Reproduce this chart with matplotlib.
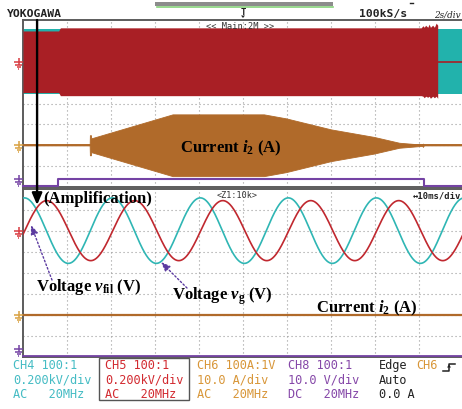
import numpy as np
import matplotlib
matplotlib.use("Agg")
import matplotlib.pyplot as plt
from matplotlib.patches import Rectangle, Polygon

plt.rcParams["mathtext.fontset"] = "custom"
plt.rcParams["mathtext.rm"] = "Liberation Serif:bold"
plt.rcParams["mathtext.it"] = "Liberation Serif:italic:bold"
plt.rcParams["mathtext.bf"] = "Liberation Serif:bold"

# ---------------- channel settings ----------------
VG_SCALE = 0.2      # CH4 v_g, kV/div
VFIL_SCALE = 0.2    # CH5 v_fil, kV/div
I2_SCALE = 10.0     # CH6 i2, A/div
EN_SCALE = 10.0     # CH8 enable, V/div

# ground level of each channel, divisions from screen centre
VG_POS = 2.0
VFIL_POS = 2.0
I2_POS = -2.0
EN_POS = -3.95

# ---------------- main window: 2 s/div ----------------
MAIN_SPAN = 20.0            # s
VG_T = [0.0, 20.0]          # v_g peak envelope (kV)
VG_PEAK = [0.311, 0.311]

VFIL_T = [0.0, 1.62, 1.70, 18.10, 18.18, 18.24, 18.30, 18.40, 18.46, 18.52, 18.62, 18.70, 18.78, 18.85]
VFIL_UP = [0.295, 0.295, 0.325, 0.325, 0.345, 0.33, 0.35, 0.33, 0.36, 0.33, 0.35, 0.33, 0.37, 0.35]
VFIL_LO = [0.295, 0.295, 0.325, 0.325, 0.33, 0.345, 0.33, 0.34, 0.33, 0.35, 0.33, 0.345, 0.33, 0.35]
VFIL_STOP = 18.86           # inverter output switched off (s)

I2_T = [0.0, 3.03, 3.04, 3.09, 3.10, 6.80, 10.95, 11.95, 14.0, 15.95, 17.1, 18.15, 18.18, 18.22, 20.0]
I2_PEAK = [0.0, 0.0, 4.8, 4.8, 3.3, 14.8, 14.8, 12.9, 7.6, 4.0, 1.2, 0.3, 0.8, 0.0, 0.0]

EN_T = [0.0, 1.60, 18.23, 20.0]   # enable signal (V), step-post
EN_V = [0.0, 3.3, 0.0, 0.0]

ZOOM_CENTER = 0.64          # s, position of the zoom window

# ---------------- zoom window: 10 ms/div ----------------
ZOOM_SPAN = 100.0           # ms
GRID_FREQ = 50.0            # Hz
VG_AMP = 0.311              # kV
VG_PEAK_MS = 0.3            # time of first positive peak
VFIL_AMP = 0.285            # kV
VFIL_PEAK_MS = 5.4
I2_ZOOM = 0.0               # A
EN_ZOOM = 0.0               # V

# ---------------- colours ----------------
C_CYAN = "#22b2ac"
C_RED = "#a91f25"
C_RED_LINE = "#c0282f"
C_ORANGE = "#b06a2a"
C_PURPLE = "#7443a4"
C_GRID = "#9a9a9a"
C_FRAME = "#5c5c5c"

W, H = 462, 410
fig = plt.figure(figsize=(W / 100, H / 100), dpi=100)
fig.patch.set_facecolor("white")


def px_axes(x0, y0, x1, y1):
    return fig.add_axes([x0 / W, 1 - y1 / H, (x1 - x0) / W, (y1 - y0) / H])


def style_panel(ax, span, ndiv=10):
    ax.set_xlim(0, span)
    ax.set_ylim(-4, 4)
    ax.set_facecolor("white")
    for k in range(1, ndiv):
        ax.axvline(k * span / ndiv, color=C_GRID, lw=0.8, ls=(0, (1.0, 2.6)), zorder=0)
    for k in range(-3, 4):
        ax.axhline(k, color=C_GRID, lw=0.8, ls=(0, (1.0, 2.6)), zorder=0)
    ax.set_xticks([])
    ax.set_yticks([])
    ax.spines["right"].set_visible(False)
    for s in ("left", "top", "bottom"):
        ax.spines[s].set_color(C_FRAME)
        ax.spines[s].set_linewidth(1.4)


# ---------------- main window ----------------
top = px_axes(23, 21, 463, 188)
style_panel(top, MAIN_SPAN)

vg_t = np.array(VG_T)
vg_p = np.array(VG_PEAK) / VG_SCALE
top.fill_between(vg_t, VG_POS + vg_p, VG_POS - vg_p, color=C_CYAN, lw=0, zorder=2)

vf_t = np.array(VFIL_T)
top.fill_between(vf_t, VFIL_POS + np.array(VFIL_UP) / VFIL_SCALE,
                 VFIL_POS - np.array(VFIL_LO) / VFIL_SCALE,
                 color=C_RED, lw=0, zorder=3)
top.plot([VFIL_STOP, MAIN_SPAN], [VFIL_POS, VFIL_POS], color=C_RED, lw=1.2, zorder=3)

i2_t = np.array(I2_T)
i2_p = np.array(I2_PEAK) / I2_SCALE
top.plot([0, MAIN_SPAN], [I2_POS, I2_POS], color=C_ORANGE, lw=1.4, zorder=3)
top.fill_between(i2_t, I2_POS + i2_p, I2_POS - i2_p, color=C_ORANGE, lw=0.6,
                 edgecolor=C_ORANGE, zorder=3)

top.plot(EN_T, EN_POS + np.array(EN_V) / EN_SCALE, drawstyle="steps-post",
         color=C_PURPLE, lw=1.5, zorder=4, clip_on=False)

# ---------------- zoom window ----------------
bot = px_axes(23, 189.5, 463, 358)
style_panel(bot, ZOOM_SPAN)
t_ms = np.linspace(0, ZOOM_SPAN, 1200)
w = 2 * np.pi * GRID_FREQ / 1000.0
bot.plot(t_ms, VG_POS + VG_AMP * np.cos(w * (t_ms - VG_PEAK_MS)) / VG_SCALE,
         color="#2fb6b4", lw=1.2, zorder=3)
bot.plot(t_ms, VFIL_POS + VFIL_AMP * np.cos(w * (t_ms - VFIL_PEAK_MS)) / VFIL_SCALE,
         color=C_RED_LINE, lw=1.2, zorder=3)
bot.plot([0, ZOOM_SPAN], [I2_POS + I2_ZOOM / I2_SCALE] * 2, color=C_ORANGE, lw=1.6, zorder=3)
bot.plot([0, ZOOM_SPAN], [EN_POS + EN_ZOOM / EN_SCALE] * 2, color=C_PURPLE, lw=1.3,
         zorder=4, clip_on=False)

# ---------------- overlay in pixel coordinates ----------------
ov = fig.add_axes([0, 0, 1, 1], facecolor="none")
ov.set_xlim(0, W)
ov.set_ylim(H, 0)
ov.axis("off")
ov.set_zorder(10)


def to_px(ax, x, y):
    dx, dy = ax.transData.transform((x, y))
    return dx, H - dy


def gnd_marker(ax, level, color, shift=0.0):
    _, y = to_px(ax, 0, level)
    y += shift
    kw = dict(color=color, lw=1.1, solid_capstyle="butt")
    ov.plot([14, 23], [y, y], **kw)
    ov.plot([18.5, 18.5], [y - 4, y + 3], **kw)
    ov.plot([15, 22], [y + 3, y + 3], **kw)
    ov.plot([16.5, 20.5], [y + 5, y + 5], **kw)
    ov.plot([17.8, 19.2], [y + 7, y + 7], **kw)


for ax in (top, bot):
    gnd_marker(ax, VFIL_POS, "#d93a40")
    gnd_marker(ax, I2_POS, "#d9a040")
    gnd_marker(ax, EN_POS, C_PURPLE, shift=-7)

# header
mono = "DejaVu Sans Mono"
ov.text(7, 17.3, "YOKOGAWA", family=mono, weight="bold", size=8.2, color="#222222")
ov.add_patch(Rectangle((155, 3.2), 178, 3.6, color="#8c8c8c", lw=0))
ov.plot([157, 333], [7.6, 7.6], color="#86d27a", lw=1.2)
ov.text(243, 15, "T", family=mono, weight="bold", size=6.5, color="#222222", ha="center")
ov.add_patch(Polygon([[241, 16.5], [245, 16.5], [243, 19]], color="#222222", lw=0))
ov.text(359, 17.3, "100kS/s", family=mono, weight="bold", size=8.2, color="#222222")
ov.plot([409.5, 413], [3.8, 3.8], color="#222222", lw=1)
ov.text(461, 17.3, "2s/div", family="DejaVu Serif", style="italic", size=6.4,
        color="#222222", ha="right")
ov.text(206, 29.3, "<< Main:2M >>", family=mono, size=6.2, color="#333333")
ov.text(217, 197.7, "<Z1:10k>", family=mono, size=6.1, color="#333333")
ov.text(461, 199, "\u219410ms/div", family=mono, weight="bold", size=6.4,
        color="#222222", ha="right")

# zoom position arrow
xa, ya0 = to_px(top, ZOOM_CENTER, 4)
ov.annotate("", xy=(xa, 206), xytext=(xa, ya0),
            arrowprops=dict(arrowstyle="-|>,head_length=0.7,head_width=0.3",
                            color="black", lw=1.7, shrinkA=0, shrinkB=0))

# annotations
serif = "Liberation Serif"
ov.text(43, 203, "(Amplification)", family=serif, weight="bold", size=12, color="black")
ov.text(180, 152.7, r"Current $i_{2}$ (A)", family=serif, weight="bold", size=12, color="black")
ov.text(36, 291.5, r"Voltage $v_{\mathrm{fil}}$ (V)", family=serif, weight="bold", size=12, color="black")
ov.text(172, 300, r"Voltage $v_{\mathrm{g}}$ (V)", family=serif, weight="bold", size=12, color="black")
ov.text(316, 312.5, r"Current $i_{2}$ (A)", family=serif, weight="bold", size=12, color="black")

arrow_kw = dict(arrowstyle="-|>,head_length=0.55,head_width=0.22", color="#5b3aa0",
                lw=1.0, linestyle=(0, (1.2, 1.6)), shrinkA=0, shrinkB=0)
ov.annotate("", xy=(31, 226), xytext=(52, 281), arrowprops=arrow_kw)
ov.annotate("", xy=(161, 263), xytext=(187, 289), arrowprops=arrow_kw)

# footer with channel settings
C_T_CYAN = "#45bcc4"
C_T_RED = "#d22a30"
C_T_ORANGE = "#d89638"
C_T_PURPLE = "#8547a8"
rows = [369.3, 384, 397.7]
fs = 8.6
footer = [
    (13, C_T_CYAN, ["CH4 100:1", "0.200kV/div", "AC   20MHz"]),
    (105, C_T_RED, ["CH5 100:1", "0.200kV/div", "AC   20MHz"]),
    (197, C_T_ORANGE, ["CH6 100A:1V", "10.0 A/div", "AC   20MHz"]),
    (288, C_T_PURPLE, ["CH8 100:1", "10.0 V/div", "DC   20MHz"]),
]
for x, c, lines in footer:
    for y, s in zip(rows, lines):
        ov.text(x, y, s, family=mono, size=fs, color=c)
ov.text(379, rows[0], "Edge", family=mono, size=fs, color="#222222")
ov.text(416, rows[0], "CH6", family=mono, size=fs, color=C_T_ORANGE)
ov.text(379, rows[1], "Auto", family=mono, size=fs, color="#222222")
ov.text(379, rows[2], "0.0 A", family=mono, size=fs, color="#222222")
ov.plot([443, 449, 449, 455], [372, 372, 364.5, 364.5], color="#222222", lw=1.1)
ov.add_patch(Polygon([[447, 368.5], [451, 368.5], [449, 365.5]], color="#222222", lw=0))
ov.add_patch(Rectangle((99, 358.5), 90, 42.5, fill=False, edgecolor="#555555", lw=1.0))

fig.savefig("out.png", dpi=100, facecolor="white")
